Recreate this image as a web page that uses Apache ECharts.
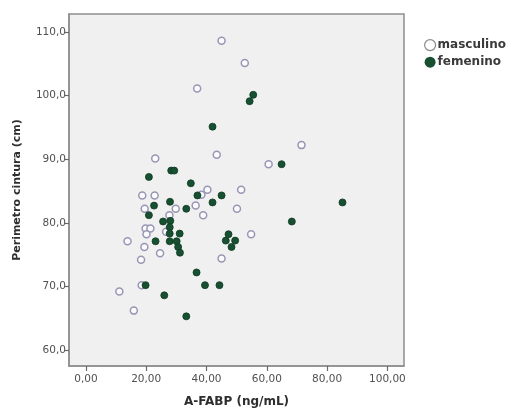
<!DOCTYPE html>
<html>
<head>
<meta charset="utf-8">
<script src="https://cdn.jsdelivr.net/npm/echarts@6/dist/echarts.min.js"></script>
<style>
  html, body { margin: 0; padding: 0; background: #ffffff; }
  #chart { width: 513px; height: 413px; }
</style>
</head>
<body>
<div id="chart"></div>
<script>
// A-FABP (ng/mL) vs. waist circumference (cm), by sex
const seriesNames = ['masculino', 'femenino'];

const masculinoFabp = [45.0, 52.7, 36.9, 43.4, 23.0, 71.5, 60.6, 40.3, 51.5, 38.3,
  18.7, 22.8, 19.5, 29.8, 36.4, 27.7, 38.9, 50.1, 54.8, 19.8,
  21.4, 20.1, 26.6, 13.8, 19.4, 24.6, 18.3, 45.0, 18.5, 11.1, 15.9];
const masculinoCintura = [108.6, 105.1, 101.1, 90.7, 90.1, 92.2, 89.2, 85.2, 85.2, 84.4,
  84.3, 84.3, 82.2, 82.2, 82.7, 81.2, 81.2, 82.2, 78.2, 79.1,
  79.1, 78.2, 78.6, 77.1, 76.2, 75.2, 74.2, 74.4, 70.2, 69.2, 66.2];

const femeninoFabp = [55.5, 54.3, 42.0, 64.9, 20.9, 28.3, 29.3, 34.8, 37.0, 45.0,
  42.0, 85.1, 68.3, 27.9, 22.6, 33.3, 20.9, 25.6, 28.0, 27.8,
  27.8, 31.1, 23.1, 27.8, 30.1, 30.6, 31.2, 47.3, 46.4, 49.5,
  48.3, 36.7, 39.5, 44.3, 19.8, 26.0, 33.3];
const femeninoCintura = [100.1, 99.1, 95.1, 89.2, 87.2, 88.2, 88.2, 86.2, 84.3, 84.3,
  83.2, 83.2, 80.2, 83.3, 82.7, 82.2, 81.2, 80.2, 80.3, 79.3,
  78.3, 78.3, 77.1, 77.1, 77.1, 76.2, 75.3, 78.2, 77.2, 77.2,
  76.2, 72.2, 70.2, 70.2, 70.2, 68.6, 65.3];

const xTicks = [0, 20, 40, 60, 80, 100];
const yTicks = [60, 70, 80, 90, 100, 110];

const pairs = (xs, ys) => xs.map((x, i) => [x, ys[i]]);

const FONT = 'DejaVu Sans';
const GREEN = '#174f31';
const hollowStyle = { color: '#fbfbfd', borderColor: '#9896b4', borderWidth: 1.5, opacity: 1 };
const filledStyle = { color: GREEN, borderColor: '#0e3a23', borderWidth: 0.8, opacity: 1 };

const chart = echarts.init(document.getElementById('chart'), null, { renderer: 'canvas' });

chart.setOption({
  animation: false,
  backgroundColor: '#ffffff',
  grid: {
    left: 69, right: 109, top: 14, bottom: 43,
    show: true,
    backgroundColor: '#f0f0f0',
    borderColor: '#8e8e8e',
    borderWidth: 1.5
  },
  legend: {
    orient: 'vertical',
    left: 419, top: 34,
    itemWidth: 11, itemHeight: 11, itemGap: 5,
    icon: 'circle',
    textStyle: { fontFamily: FONT, fontSize: 12, fontWeight: 'bold', color: '#3a3a3a', padding: [0, 0, 0, -3] },
    data: [
      { name: seriesNames[0], itemStyle: { color: '#ffffff', borderColor: '#8a8a8a', borderWidth: 1.2, opacity: 1 } },
      { name: seriesNames[1], itemStyle: { color: GREEN, borderColor: GREEN, borderWidth: 0, opacity: 1 } }
    ]
  },
  xAxis: {
    type: 'value',
    min: -5.6, max: 105.5,
    name: 'A-FABP (ng/mL)',
    nameLocation: 'middle',
    nameGap: 30,
    nameTextStyle: { fontFamily: FONT, fontSize: 12, fontWeight: 'bold', color: '#2e2e2e' },
    splitLine: { show: false },
    axisLine: { show: true, onZero: false, lineStyle: { color: '#8e8e8e', width: 1.5 } },
    axisTick: { show: true, customValues: xTicks, length: 5, lineStyle: { color: '#6a6a6a', width: 1.2 } },
    axisLabel: {
      customValues: xTicks,
      margin: 8,
      fontFamily: FONT, fontSize: 10.5, color: '#505050',
      formatter: v => v.toFixed(2).replace('.', ',')
    }
  },
  yAxis: {
    type: 'value',
    min: 57.5, max: 112.8,
    name: 'Perimetro cintura (cm)',
    nameLocation: 'middle',
    nameGap: 46,
    nameTextStyle: { fontFamily: FONT, fontSize: 11, fontWeight: 'bold', color: '#2e2e2e' },
    splitLine: { show: false },
    axisLine: { show: true, onZero: false, lineStyle: { color: '#8e8e8e', width: 1.5 } },
    axisTick: { show: true, customValues: yTicks, length: 4, lineStyle: { color: '#6a6a6a', width: 1.2 } },
    axisLabel: {
      customValues: yTicks,
      margin: 3,
      fontFamily: FONT, fontSize: 10.5, color: '#505050',
      formatter: v => v.toFixed(1).replace('.', ',')
    }
  },
  series: [
    {
      name: seriesNames[0],
      type: 'scatter',
      symbol: 'circle',
      symbolSize: 7,
      itemStyle: hollowStyle,
      data: pairs(masculinoFabp, masculinoCintura)
    },
    {
      name: seriesNames[1],
      type: 'scatter',
      symbol: 'circle',
      symbolSize: 7,
      itemStyle: filledStyle,
      data: pairs(femeninoFabp, femeninoCintura)
    }
  ]
});
</script>
</body>
</html>
